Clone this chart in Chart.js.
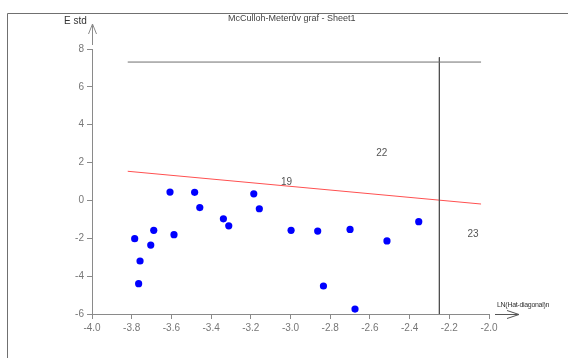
<!DOCTYPE html>
<html>
<head>
<meta charset="utf-8">
<script src="https://cdn.jsdelivr.net/npm/chart.js@4"></script>
<style>
  html, body { margin: 0; padding: 0; background: #fff; }
  #wrap { position: relative; width: 568px; height: 358px; overflow: hidden; }
  canvas { position: absolute; left: 0; top: 0; }
  .txt { position: absolute; font-family: "Liberation Sans", Arial, sans-serif; color: #333; white-space: nowrap; }
</style>
</head>
<body>
<div id="wrap">
  <canvas id="chart" width="568" height="358"></canvas>
  <div class="txt" style="left:228px; top:13px; font-size:9px; color:#444;">McCulloh-Meterův graf - Sheet1</div>
  <div class="txt" style="left:64px; top:15px; font-size:10px;">E std</div>
  <div class="txt" style="left:497px; top:301px; font-size:7px; letter-spacing:-0.3px;">LN(Hat-diagonal)n</div>
</div>
<script>
// body data
const pointX = [-3.785, -3.758, -3.765, -3.704, -3.689, -3.607, -3.587, -3.483, -3.457, -3.338,
                -3.311, -3.185, -3.157, -2.997, -2.863, -2.834, -2.700, -2.675, -2.514, -2.354];
const pointY = [-2.02, -3.20, -4.40, -2.36, -1.58, 0.44, -1.81, 0.43, -0.38, -0.97,
                -1.34, 0.35, -0.44, -1.58, -1.62, -4.52, -1.53, -5.74, -2.14, -1.12];

// hranice
const fitX = [-3.82, -2.04];
const fitY = [1.54, -0.19];
const limitX = [-3.82, -2.04];
const limitY = [7.31, 7.31];
const leverX = [-2.25, -2.25];
const leverY = [7.56, -6];

// popisky oblastí
const regionText = ['19', '22', '23'];
const regionX = [-3.02, -2.54, -2.08];
const regionY = [0.97, 2.5, -1.8];

const xTickVals = [-4.0, -3.8, -3.6, -3.4, -3.2, -3.0, -2.8, -2.6, -2.4, -2.2, -2.0];
const yTickVals = [-6, -4, -2, 0, 2, 4, 6, 8];

const toPts = (xs, ys) => xs.map((x, i) => ({ x: x, y: ys[i] }));

const axisGray = '#8a8a8a';

const decorPlugin = {
    id: 'decor',
    beforeDraw(chart) {
        const ctx = chart.ctx;
        ctx.save();
        ctx.strokeStyle = '#707070';
        ctx.lineWidth = 1;
        ctx.beginPath();
        ctx.moveTo(7.5, 358);
        ctx.lineTo(7.5, 13.5);
        ctx.lineTo(568, 13.5);
        ctx.stroke();
        ctx.restore();
    },
    afterDraw(chart) {
        const ctx = chart.ctx;
        const xs = chart.scales.x, ys = chart.scales.y;
        ctx.save();
        ctx.strokeStyle = axisGray;
        ctx.lineWidth = 1;
        // šipka osy y
        const ax = Math.round(xs.left) + 0.5;
        const top = ys.top;
        ctx.beginPath();
        ctx.moveTo(ax, top - 4);
        ctx.lineTo(ax, top - 25);
        ctx.moveTo(ax - 4, top - 15);
        ctx.lineTo(ax, top - 25);
        ctx.lineTo(ax + 4, top - 15);
        ctx.stroke();
        // šipka osy x
        const ay = Math.round(ys.bottom) + 0.5;
        const right = xs.right;
        ctx.strokeStyle = '#555';
        ctx.beginPath();
        ctx.moveTo(right + 6, ay);
        ctx.lineTo(right + 30, ay);
        ctx.moveTo(right + 18, ay - 4);
        ctx.lineTo(right + 30, ay);
        ctx.lineTo(right + 18, ay + 4);
        ctx.stroke();
        // popisky
        ctx.fillStyle = '#555';
        ctx.font = '10px "Liberation Sans", Arial, sans-serif';
        ctx.textAlign = 'center';
        ctx.textBaseline = 'middle';
        regionText.forEach((t, i) => {
            ctx.fillText(t, xs.getPixelForValue(regionX[i]), ys.getPixelForValue(regionY[i]));
        });
        ctx.restore();
    }
};

new Chart(document.getElementById('chart'), {
    type: 'scatter',
    data: {
        datasets: [
            {
                data: toPts(limitX, limitY),
                showLine: true,
                borderColor: '#707070',
                borderWidth: 1,
                pointRadius: 0
            },
            {
                data: toPts(leverX, leverY),
                showLine: true,
                borderColor: '#505050',
                borderWidth: 1,
                pointRadius: 0
            },
            {
                data: toPts(fitX, fitY),
                showLine: true,
                borderColor: '#ff5050',
                borderWidth: 1,
                pointRadius: 0
            },
            {
                data: toPts(pointX, pointY),
                backgroundColor: '#0000ff',
                borderColor: '#0000ff',
                borderWidth: 0,
                pointRadius: 3.6
            }
        ]
    },
    options: {
        responsive: false,
        animation: false,
        events: [],
        layout: { padding: { left: 0, right: 79, top: 49, bottom: 0 } },
        plugins: { legend: { display: false }, tooltip: { enabled: false } },
        scales: {
            x: {
                type: 'linear',
                min: -4,
                max: -2,
                afterBuildTicks: s => { s.ticks = xTickVals.map(v => ({ value: v })); },
                afterFit: s => { s.height = 44; },
                grid: { drawOnChartArea: false, drawTicks: true, tickLength: 5, color: axisGray },
                border: { display: true, color: axisGray },
                ticks: {
                    color: '#777',
                    padding: 3,
                    maxRotation: 0,
                    autoSkip: false,
                    font: { family: '"Liberation Sans", Arial, sans-serif', size: 10 },
                    callback: v => v.toFixed(1)
                }
            },
            y: {
                type: 'linear',
                min: -6,
                max: 8,
                afterBuildTicks: s => { s.ticks = yTickVals.map(v => ({ value: v })); },
                afterFit: s => { s.width = 92; },
                grid: { drawOnChartArea: false, drawTicks: true, tickLength: 5, color: axisGray },
                border: { display: true, color: axisGray },
                ticks: {
                    color: '#777',
                    padding: 3,
                    autoSkip: false,
                    font: { family: '"Liberation Sans", Arial, sans-serif', size: 10 },
                    callback: v => String(v)
                }
            }
        }
    },
    plugins: [decorPlugin]
});
</script>
</body>
</html>
